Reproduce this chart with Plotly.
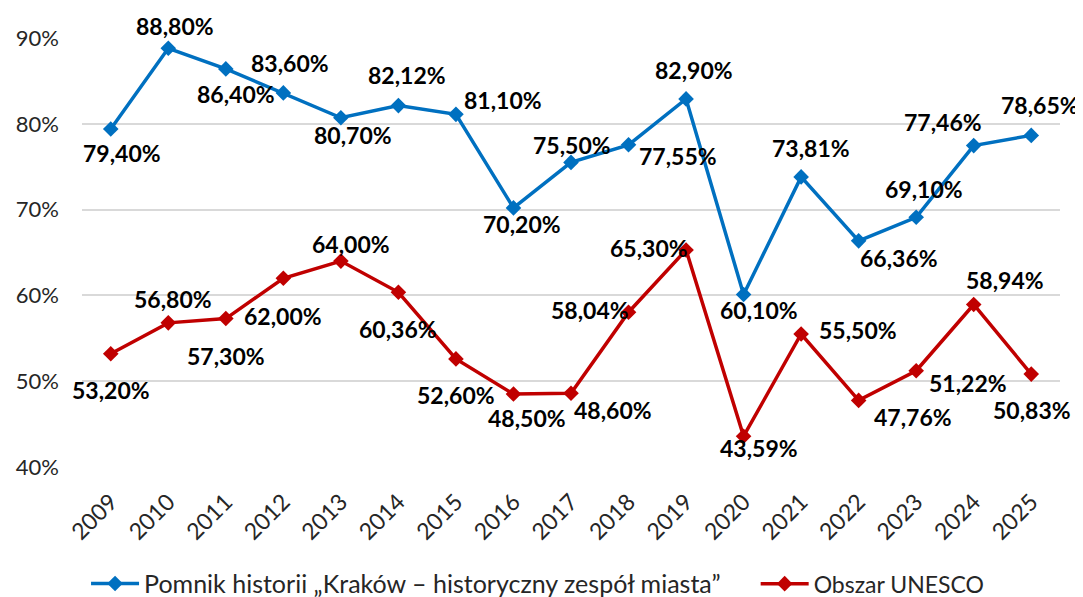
import plotly.graph_objects as go

# Data
years = [str(y) for y in range(2009, 2026)]
pomnik = [79.40, 88.80, 86.40, 83.60, 80.70, 82.12, 81.10, 70.20, 75.50,
          77.55, 82.90, 60.10, 73.81, 66.36, 69.10, 77.46, 78.65]
unesco = [53.20, 56.80, 57.30, 62.00, 64.00, 60.36, 52.60, 48.50, 48.60,
          58.04, 65.30, 43.59, 55.50, 47.76, 51.22, 58.94, 50.83]
name_pomnik = "Pomnik historii „Kraków – historyczny zespół miasta”"
name_unesco = "Obszar UNESCO"

# label offsets in pixels (dx right, dy down) relative to each point
pomnik_off = [(11, 24), (7, -22), (10, 25), (7, -30), (12, 17), (9, -31), (47, -14),
              (9, 16), (1, -17), (49, 11), (8, -29), (15, 15), (10, -29), (40, 17),
              (8, -28), (-31, -24), (9, -30)]
unesco_off = [(0, 36), (5, -24), (0, 37), (0, 38), (10, -17), (0, 37), (0, 36),
              (14, 24), (42, 17), (-39, -2), (-37, -2), (15, 12), (57, -4), (54, 17),
              (52, 12), (31, -24), (1, 36)]

BLUE = "#0070C0"
RED = "#C00000"
FONT = "Lato"
TXT = "#262626"


def fmt(v):
    return f"{v:.2f}".replace(".", ",") + "%"


fig = go.Figure()
fig.add_trace(go.Scatter(
    x=years, y=pomnik, name=name_pomnik, mode="lines+markers",
    line=dict(color=BLUE, width=3.5),
    marker=dict(symbol="diamond", size=12, color=BLUE),
    cliponaxis=False, legend="legend",
))
fig.add_trace(go.Scatter(
    x=years, y=unesco, name=name_unesco, mode="lines+markers",
    line=dict(color=RED, width=3.5),
    marker=dict(symbol="diamond", size=12, color=RED),
    cliponaxis=False, legend="legend2",
))

# data labels (x given as category index)
for vals, offs in [(pomnik, pomnik_off), (unesco, unesco_off)]:
    for i, (v, (dx, dy)) in enumerate(zip(vals, offs)):
        fig.add_annotation(
            x=i, y=v, text=fmt(v), showarrow=False,
            xshift=dx, yshift=-dy,
            font=dict(family=FONT, size=23, color="#000000", weight="bold"),
        )

# page body adds 8px margin, so the figure is 8px smaller
fig.update_layout(
    width=1075, height=589,
    margin=dict(l=74, r=23, t=30, b=130, autoexpand=False),
    plot_bgcolor="white", paper_bgcolor="white",
    font=dict(family=FONT, size=22, color=TXT),
    showlegend=True,
    legend=dict(
        orientation="h", xref="container", yref="paper",
        x=0.0726, xanchor="left", y=-0.272, yanchor="middle",
        font=dict(family=FONT, size=25, color=TXT), itemwidth=48,
    ),
    legend2=dict(
        orientation="h", xref="container", yref="paper",
        x=0.6955, xanchor="left", y=-0.272, yanchor="middle",
        font=dict(family=FONT, size=23, color=TXT), itemwidth=48,
    ),
)
fig.update_xaxes(
    type="category", range=[-0.5, 16.5], tickangle=-45, automargin=False,
    showgrid=False, showline=False, zeroline=False, ticks="",
    ticklabelstandoff=16,
    tickfont=dict(family=FONT, size=23, color=TXT),
)
fig.update_yaxes(
    range=[40, 90], dtick=10, ticksuffix="%", automargin=False,
    showgrid=True, gridcolor="#D9D9D9", gridwidth=1.5,
    zeroline=False, showline=False, ticks="",
    ticklabelstandoff=22,
    tickfont=dict(family=FONT, size=22, color=TXT),
)

fig.write_html("out.html")
